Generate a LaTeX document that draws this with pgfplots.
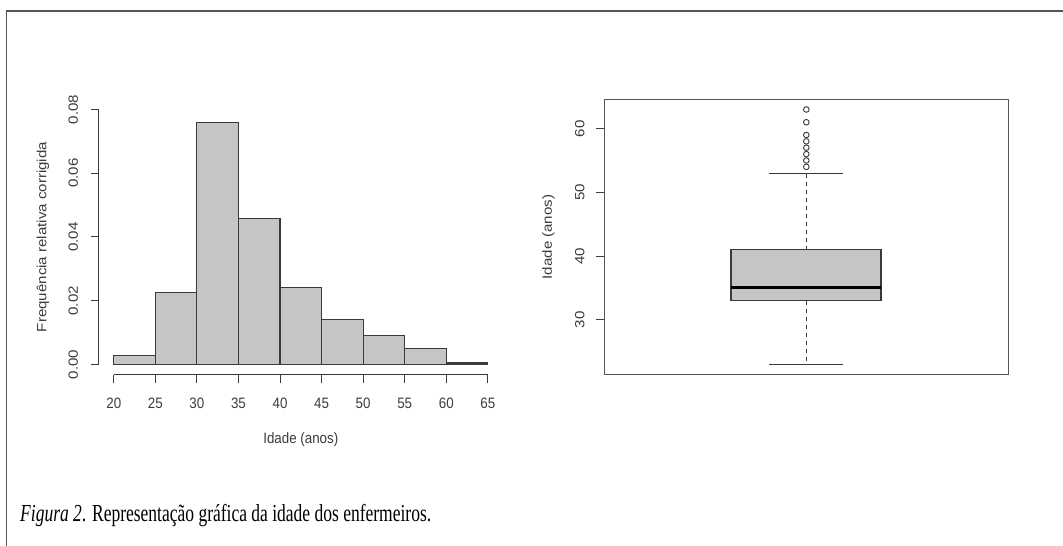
\documentclass[border=0pt]{standalone}
\usepackage{fontspec}
\setmainfont{Liberation Sans}
\newfontfamily\capfont{Liberation Serif}
\usepackage{graphicx}
\usepackage{pgfplots}
\pgfplotsset{compat=1.18}
\definecolor{barfill}{HTML}{C4C5C7}
\definecolor{edge}{HTML}{3A3A3A}
\definecolor{txt}{HTML}{3C3C3C}
\definecolor{framec}{HTML}{555555}
\newcommand\hz[1]{\scalebox{1}[1.13]{#1}}
\newcommand\vt[1]{\scalebox{1.13}[1]{#1}}
\newcommand\rfont{\fontsize{13.4}{16}\selectfont}
\begin{document}
\begin{tikzpicture}
\useasboundingbox (0bp,0bp) rectangle (1063bp,546bp);
\fill[white] (0bp,0bp) rectangle (1063bp,546bp);
\draw[framec, line width=1.8bp] (6.5bp,0bp) -- (6.5bp,535bp) -- (1063bp,535bp);

% Histogram
\begin{axis}[
  at={(98.8bp,171.3bp)}, anchor=south west,
  scale only axis, width=404bp, height=275.4bp,
  xmin=18.2, xmax=66.8, ymin=-0.0032, ymax=0.0832,
  scaled y ticks=false, scaled x ticks=false,
  axis line style={draw=none},
  clip=false,
  xtick={20,25,30,35,40,45,50,55,60,65},
  xticklabels={\hz{20},\hz{25},\hz{30},\hz{35},\hz{40},\hz{45},\hz{50},\hz{55},\hz{60},\hz{65}},
  ytick={0,0.02,0.04,0.06,0.08},
  yticklabels={\vt{0.00},\vt{0.02},\vt{0.04},\vt{0.06},\vt{0.08}},
  xtick pos=bottom, ytick pos=left,
  tick align=outside, major tick length=8bp,
  tick style={edge, line width=1bp},
  tick label style={font=\rfont, text=txt},
  xticklabel style={anchor=center, yshift=-20.5bp},
  yticklabel style={xshift=-17.5bp, rotate=90, anchor=center},
  every axis x label/.style={at={(axis description cs:0.5,0)}, yshift=-65.3bp, anchor=center, font=\rfont, text=txt},
  every axis y label/.style={at={(axis description cs:0,0.5)}, xshift=-56bp, rotate=90, anchor=center, font=\rfont, text=txt},
  xlabel={\hz{Idade (anos)}},
  ylabel={\vt{Frequência relativa corrigida}},
]
\addplot[ybar interval, fill=barfill, draw=edge, line width=1.2bp] coordinates {
  (20,0.0027) (25,0.0227) (30,0.0758) (35,0.0458) (40,0.0241)
  (45,0.0142) (50,0.0090) (55,0.0051) (60,0.0005) (65,0.0005)};
\addplot[edge, line width=1.1bp] coordinates {(20,-0.0032) (65,-0.0032)};
\addplot[edge, line width=1.1bp] coordinates {(18.2,0) (18.2,0.08)};
\end{axis}

% Boxplot
\begin{axis}[
  at={(604.3bp,171.3bp)}, anchor=south west,
  scale only axis, width=404bp, height=275.4bp,
  xmin=0, xmax=1, ymin=21.4, ymax=64.6,
  axis line style={framec, line width=1.3bp},
  xtick=\empty,
  ytick={30,40,50,60},
  yticklabels={\vt{30},\vt{40},\vt{50},\vt{60}},
  ytick pos=left,
  tick align=outside, major tick length=8bp,
  tick style={edge, line width=1bp},
  tick label style={font=\rfont, text=txt},
  yticklabel style={xshift=-16.5bp, rotate=90, anchor=center},
  every axis y label/.style={at={(axis description cs:0,0.5)}, xshift=-56bp, rotate=90, anchor=center, font=\rfont, text=txt},
  ylabel={\vt{Idade (anos)}},
]
\addplot[fill=barfill, draw=edge, line width=1.2bp, line cap=rect] coordinates {
  (0.3136,33) (0.685,33) (0.685,41) (0.3136,41) (0.3136,33)};
\addplot[black, line width=3bp] coordinates {(0.3136,35) (0.685,35)};
\addplot[edge, line width=1.1bp, dash pattern=on 4bp off 4bp] coordinates {(0.5,41) (0.5,53)};
\addplot[edge, line width=1.1bp, dash pattern=on 4bp off 4bp] coordinates {(0.5,33) (0.5,23)};
\addplot[edge, line width=1.1bp] coordinates {(0.408,53) (0.592,53)};
\addplot[edge, line width=1.1bp] coordinates {(0.408,23) (0.592,23)};
\addplot[only marks, mark=o, mark size=2.8bp, mark options={edge, line width=0.9bp}] coordinates {
  (0.5,54) (0.5,55) (0.5,56) (0.5,57) (0.5,58) (0.5,59) (0.5,61) (0.5,63)};
\end{axis}

\node[anchor=base west, inner sep=0pt, text=black] at (20bp,25bp)
  {\resizebox{411bp}{\height}{\capfont\fontsize{24.5}{28}\selectfont\textit{Figura 2}. Representação gráfica da idade dos enfermeiros.}};
\end{tikzpicture}
\end{document}
